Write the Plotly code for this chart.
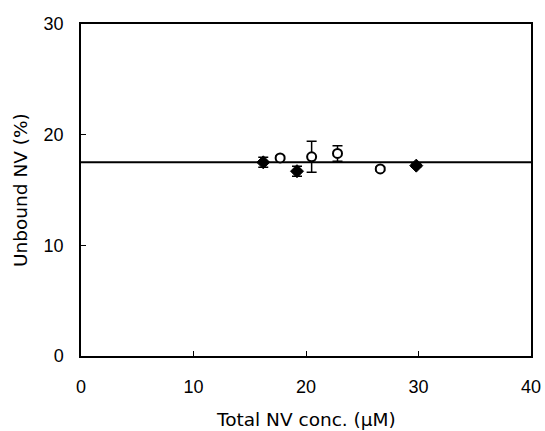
import plotly.graph_objects as go

# Filled diamonds
filled_x = [16.2, 19.2, 29.8]
filled_y = [17.5, 16.7, 17.2]
filled_err = [0.45, 0.45, 0.15]

# Open circles
open_x = [17.7, 20.5, 22.8, 26.6]
open_y = [17.9, 18.0, 18.3, 16.9]
open_err = [0.15, 1.4, 0.7, 0.15]

# Mean line
line_x = [0, 40]
line_y = [17.5, 17.5]

x_ticks = [0, 10, 20, 30, 40]
y_ticks = [0, 10, 20, 30]

x_title = "Total NV conc. (μM)"
y_title = "Unbound NV (%)"

tick_font = "Liberation Sans, Arial, sans-serif"
title_font = "DejaVu Sans, sans-serif"

fig = go.Figure()
fig.add_trace(go.Scatter(x=line_x, y=line_y, mode="lines",
                         line=dict(color="black", width=2), showlegend=False))
fig.add_trace(go.Scatter(
    x=filled_x, y=filled_y, mode="markers",
    marker=dict(symbol="diamond", size=10, color="black", line=dict(color="black", width=1)),
    error_y=dict(type="data", array=filled_err, color="black", thickness=1.5, width=5),
    showlegend=False))
fig.add_trace(go.Scatter(
    x=open_x, y=open_y, mode="markers",
    marker=dict(symbol="circle", size=9, color="white", line=dict(color="black", width=2)),
    error_y=dict(type="data", array=open_err, color="black", thickness=1.5, width=5),
    showlegend=False))

fig.update_layout(
    width=545, height=431,
    margin=dict(l=81, r=14, t=24, b=75),
    paper_bgcolor="white", plot_bgcolor="white",
    font=dict(family=tick_font, color="black", size=18),
    annotations=[
        dict(text=x_title, xref="paper", yref="paper", x=0.5, y=0, yshift=-63,
             showarrow=False, font=dict(family=title_font, size=18.5), xanchor="center", yanchor="middle"),
        dict(text=y_title, xref="paper", yref="paper", x=0, y=0.5, xshift=-61,
             showarrow=False, textangle=-90, font=dict(family=title_font, size=18.5),
             xanchor="center", yanchor="middle"),
    ],
)
fig.update_xaxes(
    range=[0, 40], tickvals=x_ticks, ticks="inside", ticklen=5, tickcolor="black",
    showline=True, linecolor="black", linewidth=1.5, mirror=True, showgrid=False, zeroline=False,
    automargin=False, ticklabelstandoff=14, tickfont=dict(size=18),
)
fig.update_yaxes(
    range=[0, 30], tickvals=y_ticks, ticks="inside", ticklen=5, tickcolor="black",
    showline=True, linecolor="black", linewidth=1.5, mirror=True, showgrid=False, zeroline=False,
    automargin=False, ticklabelstandoff=12, tickfont=dict(size=18),
)

fig.write_html(
    "out.html",
    config={"displayModeBar": False},
    post_script="document.body.style.margin='0';document.body.style.overflow='hidden';",
)
